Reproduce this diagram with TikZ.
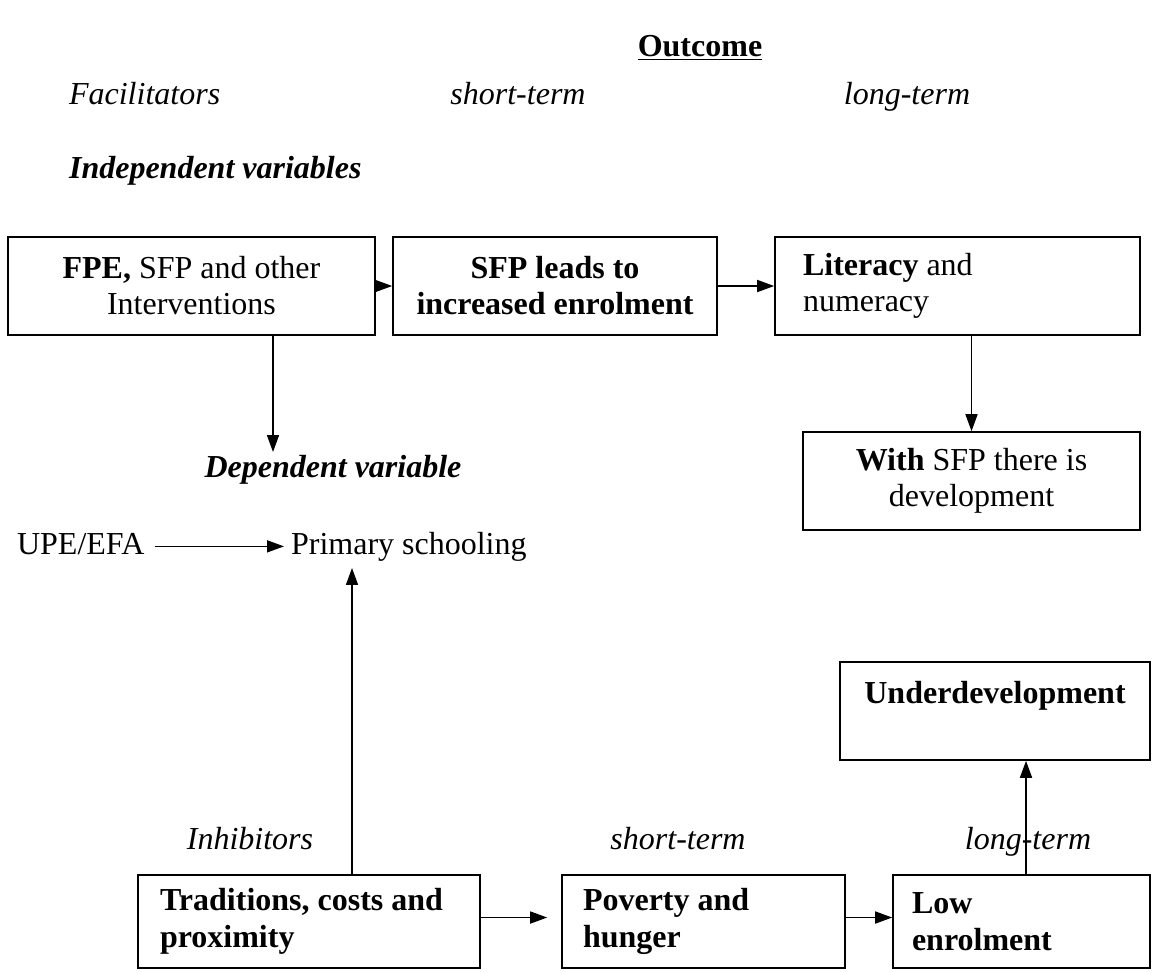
\documentclass[tikz,border=0pt]{standalone}
\usepackage{fontspec}
\setmainfont{Liberation Serif}
\usetikzlibrary{arrows.meta, positioning, calc}

\tikzset{
    box/.style={draw, thick, minimum height=49pt, align=center, inner sep=4pt},
    lbox/.style={draw, thick, align=flush left, inner ysep=4pt},
    arr/.style={-{Triangle[length=8.5pt,width=6pt]}, thick},
    every node/.style={font=\fontsize{16}{18}\selectfont}
}

\begin{document}
\begin{tikzpicture}[x=0.5pt, y=-0.5pt]
        \useasboundingbox (0,0) rectangle (1159,971);

        % Headings
        \node[anchor=base] (outcome) at (700,56) {\underline{\textbf{Outcome}}};
        \node[anchor=base west] (facil) at (62,104) {\textit{Facilitators}};
        \node[anchor=base] (short1) at (518,104) {\textit{short-term}};
        \node[anchor=base] (long1) at (907,104) {\textit{long-term}};
        \node[anchor=base west] (indep) at (62,178) {\textbf{\textit{Independent variables}}};

        % Upper row
        \node[box, minimum width=183.5pt] (fpe) at (191.5,286) {\textbf{FPE,} SFP and other\\Interventions};
        \node[box, minimum width=162pt, font=\fontsize{16}{18}\selectfont\bfseries] (sfp) at (555,286) {SFP leads to\\increased enrolment};
        \node[lbox, text width=154.5pt, inner xsep=14pt, minimum height=49pt] (lit) at (957.5,286) {\textbf{Literacy} and\\numeracy};
        \node[box, minimum width=168.5pt] (with) at (971.5,481) {\textbf{With} SFP there is\\development};

        \draw[arr] (fpe) -- (sfp);
        \draw[arr] (sfp) -- (lit);
        \draw[arr] (lit.south -| with.north) -- (with.north);

        % Dependent variable
        \node[anchor=base] (dep) at (333,477) {\textbf{\textit{Dependent variable}}};
        \coordinate (depin) at (273,452);
        \draw[arr] (fpe.south -| depin) -- (depin);

        \node[anchor=base west] (upe) at (10,554) {UPE/EFA};
        \node[anchor=base west] (prim) at (284,554) {Primary schooling};
        \draw[arr] (upe.east |- prim.west) ++(3,0) coordinate (upeout) -- (prim.west);

        % Lower row
        \node[anchor=base] (inhib) at (250,849) {\textit{Inhibitors}};
        \node[anchor=base] (short2) at (678,849) {\textit{short-term}};

        \node[lbox, text width=149pt, inner xsep=11pt, minimum height=46.5pt, font=\fontsize{16}{18.5}\selectfont\bfseries] (trad) at (309,921.5) {Traditions, costs and\\proximity};
        \node[lbox, text width=120.5pt, inner xsep=10.5pt, minimum height=46.5pt, font=\fontsize{16}{18.5}\selectfont\bfseries] (pov) at (703.5,921.5) {Poverty and\\hunger};
        \node[lbox, text width=109.5pt, inner xsep=9.5pt, minimum height=46.5pt, font=\fontsize{16}{18.5}\selectfont\bfseries] (low) at (1021.5,921.5) {Low\\enrolment};

        \node[draw, thick, minimum width=155pt, minimum height=49pt] (under) at (995,711) {};
        \node[anchor=base, font=\fontsize{16}{18}\selectfont\bfseries] (undertxt) at (995,703) {Underdevelopment};

        \coordinate (tradup) at (352,0);
        \draw[arr] (trad.north -| tradup) -- (prim.south -| tradup);
        \draw[arr] ($(trad.east)+(0,-4)$) -- ($(pov.west)+(-14,-4)$);
        \draw[arr] ($(pov.east)+(0,-4)$) -- ($(low.west)+(0,-4)$);

        \coordinate (lowup) at (1026,0);
        \draw[arr] (low.north -| lowup) -- (under.south -| lowup);
        \node[anchor=base] (long2) at (1028,849) {\textit{long-term}};

    \end{tikzpicture}
\end{document}
